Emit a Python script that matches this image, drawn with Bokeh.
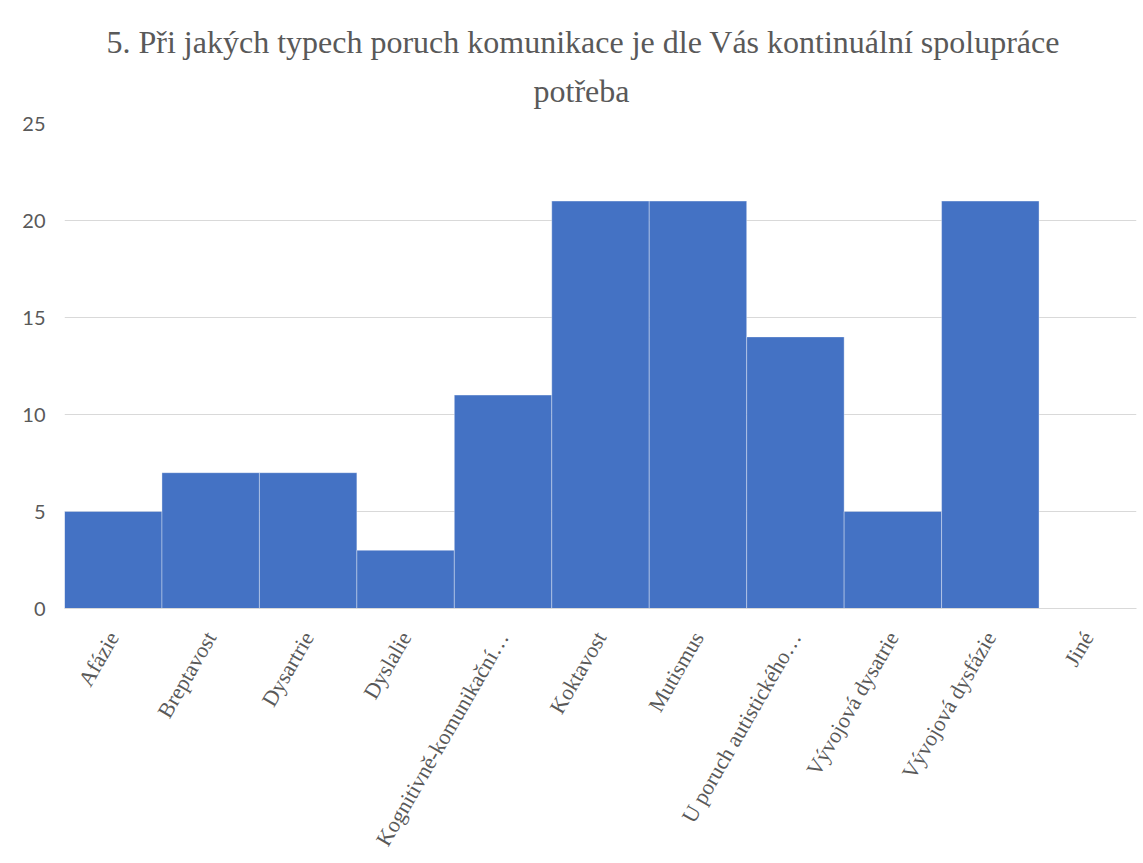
import math
from bokeh.plotting import figure
from bokeh.models import Title, Range1d
from bokeh.embed import file_html
from bokeh.resources import INLINE

categories = [
    "Afázie",
    "Breptavost",
    "Dysartrie",
    "Dyslalie",
    "Kognitivně-komunikační…",
    "Koktavost",
    "Mutismus",
    "U poruch autistického…",
    "Vývojová dysatrie",
    "Vývojová dysfázie",
    "Jiné",
]
values = [5, 7, 7, 3, 11, 21, 21, 14, 5, 21, 0]
y_ticks = [0, 5, 10, 15, 20, 25]
title_line1 = "5. Při jakých typech poruch komunikace je dle Vás kontinuální spolupráce"
title_line2 = "potřeba"

GRAY = "#595959"
GRID = "#d9d9d9"

p = figure(
    x_range=categories,
    width=1143,
    height=863,
    output_backend="svg",
    toolbar_location=None,
    min_border_left=64,
    min_border_right=7,
    min_border_top=123,
    min_border_bottom=255,
    styles={"outline": "1px solid #d9d9d9"},
)

p.vbar(
    x=categories,
    top=values,
    width=1.0,
    fill_color="#4472C4",
    line_color="#ffffff",
    line_alpha=0.35,
    line_width=1,
)

# second title line, added first so it sits next to the frame
t2 = Title(
    text=title_line2,
    align="left",
    vertical_align="top",
    text_baseline="top",
    offset=469,
    text_font="Liberation Serif",
    text_font_size="32px",
    text_font_style="normal",
    text_color=GRAY,
    standoff=26,
)
p.add_layout(t2, "above")

p.title.text = title_line1
p.title.align = "left"
p.title.offset = 42
p.title.text_font = "Liberation Serif"
p.title.text_font_size = "32px"
p.title.text_font_style = "normal"
p.title.text_color = GRAY
p.title.standoff = 0

p.y_range = Range1d(0, 25)
p.yaxis.ticker = y_ticks
p.yaxis.axis_line_color = None
p.yaxis.major_tick_line_color = None
p.yaxis.minor_tick_line_color = None
p.yaxis.major_tick_out = 0
p.yaxis.major_label_standoff = 19
p.yaxis.major_label_text_font = "Lato"
p.yaxis.major_label_text_font_size = "20px"
p.yaxis.major_label_text_color = GRAY

p.xaxis.axis_line_color = GRID
p.xaxis.major_tick_line_color = None
p.xaxis.minor_tick_line_color = None
p.xaxis.major_tick_out = 0
p.xaxis.major_label_orientation = math.pi / 3
p.xaxis.major_label_standoff = 25
p.xaxis.major_label_text_font = "Liberation Serif"
p.xaxis.major_label_text_font_size = "22px"
p.xaxis.major_label_text_color = GRAY

p.xgrid.grid_line_color = None
p.ygrid.grid_line_color = GRID
p.ygrid.grid_line_width = 1
p.outline_line_color = None
p.background_fill_color = "white"
p.border_fill_color = "white"

open("out.html", "w").write(file_html(p, INLINE))
